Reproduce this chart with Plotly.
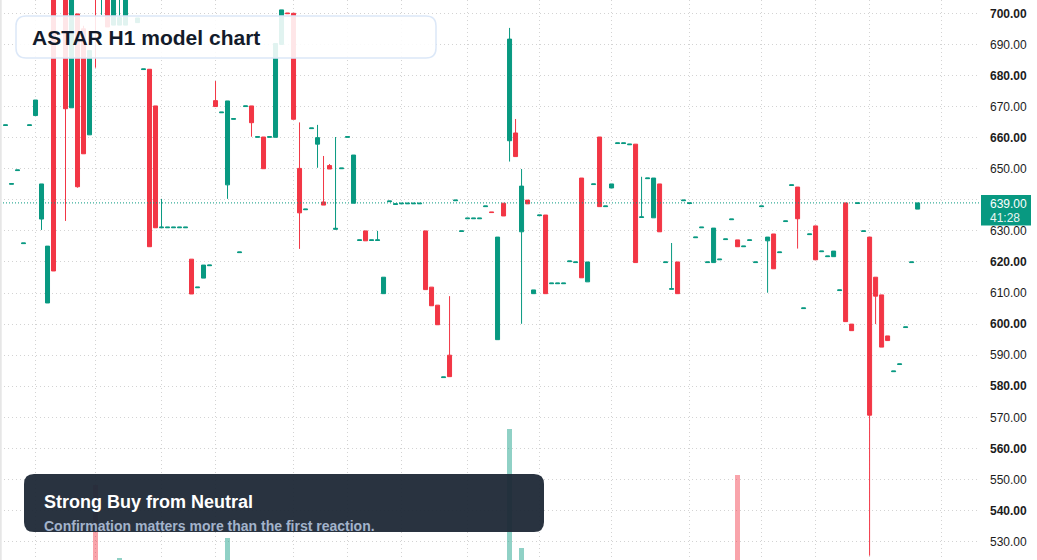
import plotly.graph_objects as go

# ---------------- data ----------------
opens = [663.9, 645.0, 649.4, 625.9, 663.9, 667.1, 633.8, 606.8, 712.0, 711.0,
         715.0, 669.6, 699.8, 695.0, 660.9, 714.0, 708.0, 712.0, 696.2, 696.2,
         696.2, 711.0, 697.0, 681.9, 682.0, 670.2, 631.0, 631.0, 631.0, 631.0,
         631.0, 620.9, 611.7, 614.8, 618.8, 671.9, 668.0, 644.8, 665.9, 623.0,
         670.0, 670.2, 660.1, 660.2, 660.1, 660.1, 690.0, 700.1, 700.0, 650.1,
         636.8, 662.9, 657.9, 639.3, 651.0, 630.5, 650.0, 660.1, 638.9, 626.9,
         630.0, 626.9, 626.9, 609.8, 639.4, 638.5, 638.7, 638.7, 638.7, 638.7,
         630.0, 611.9, 606.1, 582.8, 590.0, 639.7, 629.8, 633.9, 633.9, 633.9,
         637.8, 636.1, 595.0, 638.9, 659.0, 661.5, 629.7, 639.9, 609.8, 634.9,
         635.1, 613.0, 613.0, 613.0, 620.1, 619.8, 647.0, 613.6, 644.9, 660.2,
         637.8, 643.8, 658.1, 658.1, 657.7, 657.9, 634.3, 646.8, 634.2, 645.1,
         619.8, 611.2, 620.0, 639.7, 638.8, 627.8, 631.0, 619.8, 619.8, 620.7,
         627.2, 633.6, 627.1, 624.9, 626.9, 619.8, 637.8, 626.8, 629.0, 623.0,
         633.0, 644.6, 644.1, 605.0, 628.8, 631.6, 623.3, 621.7, 621.7, 610.8,
         639.0, 600.0, 638.8, 629.8, 628.0, 615.1, 609.4, 596.2, 584.7, 587.0,
         598.9, 619.8, 637.0]
highs = [664.1, 645.2, 649.6, 626.1, 664.1, 672.1, 645.1, 625.1, 714.0, 713.0,
         716.0, 714.0, 699.8, 696.0, 688.0, 716.0, 717.0, 713.0, 712.0, 706.0,
         715.0, 711.2, 698.5, 682.1, 682.0, 670.2, 640.3, 631.2, 631.2, 631.2,
         631.2, 620.9, 611.9, 619.0, 619.0, 678.2, 668.2, 671.8, 666.1, 623.2,
         670.2, 670.2, 660.3, 660.2, 660.3, 690.3, 701.1, 700.1, 700.0, 664.9,
         637.0, 663.1, 664.1, 654.1, 651.5, 660.2, 650.2, 660.3, 654.4, 627.1,
         630.0, 627.1, 630.0, 615.1, 639.6, 638.7, 638.9, 638.9, 638.9, 638.9,
         630.0, 611.9, 606.1, 583.0, 609.0, 639.9, 630.0, 634.1, 634.1, 634.1,
         638.0, 636.1, 628.0, 638.9, 695.3, 666.0, 649.9, 639.9, 611.0, 635.1,
         635.1, 613.2, 613.2, 613.2, 620.3, 620.0, 647.0, 620.0, 645.1, 660.2,
         638.0, 645.1, 658.3, 658.3, 657.9, 657.9, 647.4, 647.0, 647.0, 645.1,
         620.0, 626.1, 620.0, 639.9, 639.0, 628.0, 631.2, 620.0, 630.9, 620.9,
         627.4, 633.8, 627.1, 625.1, 627.1, 620.0, 638.0, 628.0, 629.0, 623.2,
         633.2, 644.8, 644.1, 605.2, 629.0, 631.6, 623.5, 621.9, 623.5, 611.0,
         639.0, 600.0, 639.0, 630.0, 628.0, 615.1, 609.4, 596.2, 584.9, 587.2,
         599.1, 620.0, 639.0]
lows = [663.9, 645.0, 649.4, 625.9, 663.9, 667.1, 630.3, 606.8, 617.1, 709.0,
        633.2, 669.6, 643.9, 654.8, 660.9, 682.5, 699.5, 695.6, 696.2, 696.2,
        696.2, 711.0, 697.0, 681.9, 624.9, 631.0, 631.0, 631.0, 631.0, 631.0,
        631.0, 609.7, 611.7, 614.8, 618.8, 670.0, 668.0, 640.3, 665.9, 623.0,
        670.0, 660.3, 660.1, 650.0, 660.1, 660.1, 690.0, 699.9, 665.9, 624.2,
        636.8, 662.9, 650.3, 638.3, 649.9, 630.5, 650.0, 660.1, 638.9, 626.9,
        626.8, 626.9, 626.9, 609.8, 639.4, 638.5, 638.7, 638.7, 638.7, 638.7,
        611.1, 605.9, 599.8, 582.8, 583.1, 639.7, 629.8, 633.9, 633.9, 633.9,
        637.8, 635.9, 595.0, 634.8, 652.3, 653.9, 600.1, 638.7, 609.8, 634.9,
        609.8, 613.0, 613.0, 613.0, 620.1, 619.8, 614.9, 613.6, 644.9, 637.8,
        637.8, 643.8, 658.1, 658.1, 657.7, 619.8, 634.3, 646.8, 634.2, 629.7,
        619.8, 611.2, 609.8, 639.7, 638.8, 627.8, 631.0, 619.8, 619.8, 620.7,
        627.2, 633.6, 624.9, 624.9, 626.9, 619.8, 637.8, 610.1, 617.8, 623.0,
        633.0, 644.6, 624.3, 605.0, 628.8, 620.7, 623.3, 621.7, 621.7, 610.8,
        600.8, 597.9, 638.8, 629.8, 525.5, 600.0, 592.6, 594.7, 584.7, 587.0,
        598.9, 619.8, 637.0]
closes = [664.1, 645.2, 649.6, 626.1, 664.1, 672.1, 645.1, 625.1, 617.1, 712.0,
          669.3, 713.0, 644.2, 654.8, 688.0, 708.0, 716.0, 695.6, 711.0, 698.6,
          714.0, 711.2, 698.5, 682.1, 624.9, 631.0, 631.2, 631.2, 631.2, 631.2,
          631.2, 609.7, 611.9, 619.0, 619.0, 670.0, 668.2, 671.8, 666.1, 623.2,
          670.2, 664.8, 660.3, 650.0, 660.3, 690.3, 701.1, 699.9, 665.9, 635.8,
          637.0, 663.1, 660.0, 638.3, 649.9, 630.8, 650.2, 660.3, 654.4, 627.1,
          626.8, 627.1, 627.1, 615.1, 639.6, 638.7, 638.9, 638.9, 638.9, 638.9,
          611.1, 605.9, 599.8, 583.0, 583.1, 639.9, 630.0, 634.1, 634.1, 634.1,
          638.0, 635.9, 628.0, 634.8, 691.7, 653.9, 644.4, 638.7, 611.0, 635.1,
          609.8, 613.2, 613.2, 613.2, 620.3, 620.0, 614.9, 620.0, 645.1, 637.8,
          638.0, 645.1, 658.3, 658.3, 657.9, 619.8, 634.5, 647.0, 647.0, 629.7,
          620.0, 611.4, 609.8, 639.9, 639.0, 628.0, 631.2, 620.0, 630.9, 620.9,
          627.4, 633.8, 624.9, 625.1, 627.1, 620.0, 638.0, 628.0, 617.8, 623.2,
          633.2, 644.8, 633.9, 605.2, 629.0, 620.7, 623.5, 621.9, 623.5, 611.0,
          600.8, 597.9, 639.0, 630.0, 570.7, 609.0, 592.6, 594.7, 584.9, 587.2,
          599.1, 620.0, 639.0]
volumes = [180, 160, 150, 210, 170, 320, 560, 610, 740, 300,
           690, 720, 700, 650, 600, 1550, 420, 380, 350, 820,
           430, 120, 200, 180, 710, 620, 280, 140, 120, 110,
           130, 420, 150, 260, 140, 300, 170, 1020, 160, 190,
           150, 280, 130, 350, 140, 640, 420, 200, 580, 480,
           170, 210, 330, 290, 260, 360, 150, 160, 470, 180,
           240, 150, 220, 330, 170, 160, 140, 130, 120, 150,
           560, 310, 330, 200, 450, 190, 170, 150, 140, 160,
           180, 170, 760, 260, 2110, 540, 920, 230, 210, 180,
           590, 160, 150, 140, 190, 170, 640, 340, 180, 520,
           170, 230, 160, 150, 140, 700, 280, 170, 480, 430,
           190, 300, 380, 200, 180, 210, 170, 190, 420, 160,
           170, 180, 1650, 150, 160, 170, 180, 310, 400, 160,
           190, 200, 380, 170, 200, 400, 160, 150, 230, 180,
           690, 260, 190, 170, 780, 420, 530, 250, 200, 180,
           210, 230, 300]
bar_index = list(range(len(closes)))
time_grid_ticks = [5, 15, 26, 35, 48, 57, 66, 77, 89, 101, 114, 126, 135, 144, 156]
price_ticks = [530, 540, 550, 560, 570, 580, 590, 600, 610, 620, 630, 640, 650, 660, 670, 680, 690, 700]
bold_ticks = [540, 560, 580, 600, 620, 660, 680, 700]
hidden_ticks = [640]
title_text = "ASTAR H1 model chart"
signal_title = "Strong Buy from Neutral"
signal_sub = "Confirmation matters more than the first reaction."
countdown = "41:28"

# ---------------- style ----------------
UP = "#089981"
DOWN = "#f23645"
UP_VOL = "rgba(8,153,129,0.45)"
DOWN_VOL = "rgba(242,54,69,0.45)"
GRID = "#d3d3d3"
FONT = "Liberation Sans"
W, H = 1037, 560
PW = 980  # plot width in px (price scale to the right)

vol_colors = [UP_VOL if c >= o else DOWN_VOL for o, c in zip(opens, closes)]
tick_text = []
for t in price_ticks:
    if t in hidden_ticks:
        tick_text.append("")
    elif t in bold_ticks:
        tick_text.append(f"<b>{t:.2f}</b>")
    else:
        tick_text.append(f"{t:.2f}")

fig = go.Figure()
fig.add_trace(go.Bar(x=bar_index, y=volumes, marker=dict(color=vol_colors, line=dict(width=0)),
                     width=0.8, yaxis="y2", hoverinfo="skip", showlegend=False))
fig.add_trace(go.Candlestick(
    x=bar_index, open=opens, high=highs, low=lows, close=closes,
    increasing=dict(line=dict(color=UP, width=1), fillcolor=UP),
    decreasing=dict(line=dict(color=DOWN, width=1), fillcolor=DOWN),
    whiskerwidth=0, showlegend=False, hoverinfo="skip"))


def P(x, y):
    return x / PW, 1 - y / H


def rounded(x0, y0, x1, y1, r):
    pts = []
    def a(cmd, *xy):
        s = cmd
        for i in range(0, len(xy), 2):
            px, py = P(xy[i], xy[i + 1])
            s += f" {px:.5f},{py:.5f}"
        pts.append(s)
    a("M", x0 + r, y0)
    a("L", x1 - r, y0)
    a("Q", x1, y0, x1, y0 + r)
    a("L", x1, y1 - r)
    a("Q", x1, y1, x1 - r, y1)
    a("L", x0 + r, y1)
    a("Q", x0, y1, x0, y1 - r)
    a("L", x0, y0 + r)
    a("Q", x0, y0, x0 + r, y0)
    return " ".join(pts) + " Z"


last = closes[-1]
shapes = [
    dict(type="line", xref="paper", yref="y", x0=0, x1=1, y0=last, y1=last,
         line=dict(color=UP, width=1, dash="1px,2px"), layer="above"),
    dict(type="path", xref="paper", yref="paper", path=rounded(16, 16, 436, 58, 10),
         fillcolor="rgba(255,255,255,0.88)", line=dict(color="#dce8f8", width=1.5), layer="above"),
    dict(type="path", xref="paper", yref="paper", path=rounded(24, 474, 544, 532, 10),
         fillcolor="rgba(30,40,54,0.95)", line=dict(width=0), layer="above"),
    dict(type="rect", xref="paper", yref="paper",
         x0=P(981, 0)[0], x1=P(1031, 0)[0], y0=P(0, 225.5)[1], y1=P(0, 195)[1],
         fillcolor=UP, line=dict(width=0), layer="above"),
    dict(type="rect", xref="paper", yref="paper", x0=0, x1=P(1.7, 0)[0], y0=0, y1=1,
         fillcolor="#e6e6e6", line=dict(width=0), layer="above"),
]

annotations = [
    dict(text=f"<b>{title_text}</b>", xref="paper", yref="paper", x=P(30, 0)[0], y=P(0, 37.5)[1],
         xanchor="left", yanchor="middle", showarrow=False,
         font=dict(family=FONT, size=21, color="#131b2b")),
    dict(text=f"<b>{signal_title}</b>", xref="paper", yref="paper", x=P(42, 0)[0], y=P(0, 502)[1],
         xanchor="left", yanchor="middle", showarrow=False,
         font=dict(family=FONT, size=18, color="#ffffff")),
    dict(text=f"<b>{signal_sub}</b>", xref="paper", yref="paper", x=P(42, 0)[0], y=P(0, 526)[1],
         xanchor="left", yanchor="middle", showarrow=False,
         font=dict(family=FONT, size=14, color="#a3b3cb")),
    dict(text=f"{last:.2f}", xref="paper", yref="paper", x=P(987.5, 0)[0], y=P(0, 203.7)[1],
         xanchor="left", yanchor="middle", showarrow=False,
         font=dict(family=FONT, size=12, color="#ffffff")),
    dict(text=countdown, xref="paper", yref="paper", x=P(987.5, 0)[0], y=P(0, 217.8)[1],
         xanchor="left", yanchor="middle", showarrow=False,
         font=dict(family=FONT, size=12, color="#e8f5f2")),
]

fig.update_layout(
    width=W, height=H, autosize=False,
    margin=dict(l=0, r=W - PW, t=0, b=0),
    paper_bgcolor="white", plot_bgcolor="white",
    showlegend=False, hovermode=False,
    shapes=shapes, annotations=annotations,
    bargap=0, boxgap=0.33, boxgroupgap=0,
    xaxis=dict(range=[-0.917, 162.4], tickvals=time_grid_ticks, showticklabels=False,
               showgrid=True, gridcolor=GRID, griddash="1px,3px", gridwidth=1,
               zeroline=False, showline=False, ticks="", rangeslider=dict(visible=False),
               fixedrange=True),
    yaxis=dict(side="right", range=[524.11, 704.28], tickvals=price_ticks, ticktext=tick_text,
               showgrid=True, gridcolor=GRID, griddash="1px,3px", gridwidth=1,
               zeroline=False, showline=False, ticks="", ticklabelstandoff=9,
               tickfont=dict(family=FONT, size=12, color="#1c1c1c")),
    yaxis2=dict(overlaying="y", range=[800, 6400], visible=False, showgrid=False, zeroline=False),
)

fig.write_html("out.html")
